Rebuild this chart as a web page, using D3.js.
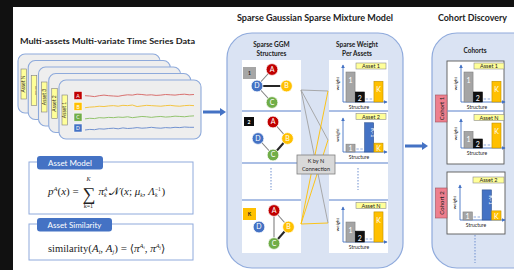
<!DOCTYPE html>
<html>
<head>
<meta charset="utf-8">
<script src="https://cdn.jsdelivr.net/npm/d3@7.9.0/dist/d3.min.js"></script>
<style>
  body { margin: 0; background: #111; }
  svg { display: block; }
  text { font-family: Lato, "Open Sans", sans-serif; fill: #222; }
  .serif { font-family: "Liberation Serif", "DejaVu Serif", serif; white-space: pre; }
</style>
</head>
<body>
<svg id="fig" width="514" height="270"></svg>
<script>
// ---- data ----
const varNames = ["A", "B", "C", "D"];
const seriesA = [0.1, 0.0, -0.2, 0.1, 0.3, 0.1, 0.0, -0.1, 0.2, 0.4, 0.3, 0.6, 0.5, 0.3, 0.4, 0.2, 0.3, 0.5, 0.4, 0.3, 0.5, 0.6, 0.4, 0.5];
const seriesB = [-0.3, -0.1, 0.0, 0.2, 0.1, 0.3, 0.4, 0.2, 0.5, 0.4, 0.6, 0.1, 0.3, 0.5, 0.4, 0.3, 0.2, 0.4, 0.5, 0.3, 0.2, 0.4, 0.5, 0.4];
const seriesC = [-0.4, -0.2, -0.3, 0.0, -0.1, 0.1, 0.0, 0.2, 0.1, 0.3, 0.0, 0.2, 0.4, 0.3, 0.1, 0.3, 0.4, 0.2, 0.3, 0.5, 0.4, 0.3, 0.5, 0.6];
const seriesD = [-0.5, -0.3, -0.4, -0.1, -0.2, 0.0, 0.1, -0.1, 0.2, 0.0, 0.1, 0.3, 0.1, 0.2, 0.4, 0.2, 0.1, 0.3, 0.2, 0.4, 0.3, 0.5, 0.4, 0.4];
const assetStack = ["Asset N", "........", "Asset 3", "Asset 2", "Asset 1"];

const structs12K = ["1", "2", "…", "K"];
const structs1K = ["1", "…", "K-1", "K"];
const asset1Weights = [0.81, 0.27, null, 0.56];
const asset2Weights = [0.23, null, 0.86, 0.26];
const assetNWeights = [0.57, 0.31, null, 0.86];

const graph1Edges = [["D", "A", 0], ["D", "B", 1], ["D", "C", 0]];
const graph2Edges = [["A", "B", 0], ["B", "C", 1], ["C", "D", 0]];
const graphKEdges = [["A", "C", 0], ["A", "B", 0], ["B", "C", 1]];

const grayLinks = ["Asset 1", "Asset 2", "Asset N"];   // from structure 1
const yellowLinks = ["Asset 1", "Asset 2", "Asset N"]; // from structure K

// ---- drawing ----
const svg = d3.select("#fig");
const blue = "#4472c4";
const nodeColor = { A: "#c00000", B: "#ffc000", C: "#70ad47", D: "#4472c4" };
const barStyle = {
  "1": ["#a5a5a5", "#7f7f7f", "#fff"],
  "2": ["#111", "#000", "#fff"],
  "K-1": ["#4472c4", "#2f528f", "#fff"],
  "K": ["#ffc000", "#bf9000", "#fff"]
};

const defs = svg.append("defs");
defs.append("marker").attr("id", "tip").attr("viewBox", "0 0 6 6")
  .attr("refX", 5).attr("refY", 3).attr("markerWidth", 4).attr("markerHeight", 4)
  .attr("orient", "auto")
  .append("path").attr("d", "M0,0 L6,3 L0,6 Z").attr("fill", blue);

svg.append("rect").attr("width", 514).attr("height", 270).attr("fill", "#111");
svg.append("rect").attr("x", 13).attr("y", 7).attr("width", 501).attr("height", 263).attr("fill", "#fff");

function title(txt, x, y, size, len, anchor) {
  const t = svg.append("text").attr("x", x).attr("y", y).attr("font-size", size)
    .attr("font-weight", "bold").attr("text-anchor", anchor || "start").text(txt);
  if (len) t.attr("textLength", len).attr("lengthAdjust", "spacingAndGlyphs");
  return t;
}
title("Multi-assets Multi-variate Time Series Data", 20, 44, 8, 175);
title("Sparse Gaussian Sparse Mixture Model", 237, 21, 8.5, 156);
title("Cohort Discovery", 438, 21, 8.5, 69);

function blueArrow(x0, x1, y) {
  svg.append("path").attr("fill", blue)
    .attr("d", `M${x0},${y - 1.6} L${x1 - 6},${y - 1.6} L${x1 - 6},${y - 4} L${x1},${y} L${x1 - 6},${y + 4} L${x1 - 6},${y + 1.6} L${x0},${y + 1.6} Z`);
}

// --- stacked asset panels ---
assetStack.forEach((name, i) => {
  const px = 18 + i * 10.25, py = 54 + i * 6.5;
  svg.append("rect").attr("x", px).attr("y", py).attr("width", 142).attr("height", 59)
    .attr("rx", 7).attr("fill", "#eeeeee").attr("stroke", "#8eaadb").attr("stroke-width", 1.1);
  svg.append("rect").attr("x", px + 3).attr("y", py + 15).attr("width", 5.5).attr("height", 30)
    .attr("fill", "#ffff99").attr("stroke", "#7f7f7f").attr("stroke-width", 0.6);
  svg.append("text").attr("transform", `translate(${px + 7.4},${py + 30}) rotate(-90)`)
    .attr("text-anchor", "middle").attr("font-size", 5).text(name);
});

const tsData = [seriesA, seriesB, seriesC, seriesD];
const tsColors = ["#d9716f", "#f4c542", "#93c46f", "#7393d0"];
const xTs = d3.scaleLinear().domain([0, seriesA.length - 1]).range([85, 194]);
const yRow = d3.scalePoint().domain(varNames).range([96, 128.5]);
const yDev = d3.scaleLinear().domain([-1, 1]).range([3, -3]);
varNames.forEach((v, i) => {
  svg.append("rect").attr("x", 74).attr("y", yRow(v) - 4.5).attr("width", 8).attr("height", 8)
    .attr("fill", nodeColor[v]).attr("stroke", "#fff").attr("stroke-width", 0.5);
  svg.append("text").attr("x", 78).attr("y", yRow(v) + 1.8).attr("text-anchor", "middle")
    .attr("font-size", 5).style("fill", "#fff").text(v);
  svg.append("path").datum(tsData[i])
    .attr("d", d3.line().x((d, j) => xTs(j)).y(d => yRow(v) + yDev(d)).curve(d3.curveLinear))
    .attr("fill", "none").attr("stroke", tsColors[i]).attr("stroke-width", 1);
});

blueArrow(203, 226, 112);

// --- formula boxes ---
function formulaBox(y0, h, tabW, label) {
  svg.append("rect").attr("x", 29).attr("y", y0).attr("width", 164).attr("height", h)
    .attr("fill", "#fff").attr("stroke", "#8faadc").attr("stroke-width", 1);
  svg.append("rect").attr("x", 37).attr("y", y0 - 6).attr("width", tabW).attr("height", 13.5)
    .attr("rx", 3).attr("fill", blue);
  svg.append("text").attr("x", 37 + tabW / 2).attr("y", y0 + 3.8).attr("text-anchor", "middle")
    .attr("font-size", 8).style("fill", "#fff").text(label);
}
formulaBox(162, 52, 66, "Asset Model");
formulaBox(224, 36, 75, "Asset Similarity");

function mathRow(x0, y0, segs) {
  let x = x0;
  segs.forEach(s => {
    const t = svg.append("text").attr("class", "serif").attr("x", x).attr("y", y0 + (s.dy || 0))
      .attr("font-size", s.fs || 11).attr("font-style", s.it ? "italic" : "normal").text(s.t);
    const w = t.node().getComputedTextLength();
    if (!s.hold) x += w + (s.gap || 0);
  });
  return x;
}
let mx = mathRow(48, 195, [
  { t: "p", it: true }, { t: "A", it: true, fs: 6.5, dy: -4.5 }, { t: "(" }, { t: "x", it: true },
  { t: ")" }, { t: " = ", gap: 1 }
]);
svg.append("text").attr("class", "serif").attr("x", mx).attr("y", 200).attr("font-size", 18).text("∑");
svg.append("text").attr("class", "serif").attr("x", mx + 6).attr("y", 180.5).attr("font-size", 6)
  .attr("font-style", "italic").attr("text-anchor", "middle").text("K");
svg.append("text").attr("class", "serif").attr("x", mx + 6).attr("y", 207.5).attr("font-size", 6)
  .attr("text-anchor", "middle").text("k=1");
mathRow(mx + 16, 195, [
  { t: "π", it: true }, { t: "A", it: true, fs: 5.5, dy: -4.5, hold: true }, { t: "k", it: true, fs: 5.5, dy: 2, gap: 3 },
  { t: "𝒩" }, { t: "(" }, { t: "x", it: true }, { t: "; " }, { t: "μ", it: true },
  { t: "k", it: true, fs: 5.5, dy: 2 }, { t: ", " }, { t: "Λ", it: true },
  { t: "−1", fs: 5.5, dy: -4.5, hold: true }, { t: "k", it: true, fs: 5.5, dy: 2, gap: 4 }, { t: ")" }
]);
mathRow(48, 252, [
  { t: "similarity", fs: 10.5 }, { t: "(" }, { t: "A", it: true }, { t: "i", it: true, fs: 6, dy: 2 },
  { t: ", " }, { t: "A", it: true }, { t: "j", it: true, fs: 6, dy: 2 }, { t: ")" }, { t: " = " },
  { t: "⟨" }, { t: "π", it: true }, { t: "A", it: true, fs: 6.5, dy: -4.5 }, { t: "i", it: true, fs: 4.5, dy: -3 },
  { t: ", " }, { t: "π", it: true }, { t: "A", it: true, fs: 6.5, dy: -4.5 }, { t: "j", it: true, fs: 4.5, dy: -3 }, { t: "⟩" }
]);

// --- middle panel ---
svg.append("rect").attr("x", 227).attr("y", 33).attr("width", 176).attr("height", 235).attr("rx", 25)
  .attr("fill", "#dae3f3").attr("stroke", "#8faadc").attr("stroke-width", 1.2);
[[271.5, "Sparse GGM", "Structures"], [357, "Sparse Weight", "Per Assets"]].forEach(([cx, a, b]) => {
  title(a, cx, 46.5, 6.5, null, "middle");
  title(b, cx, 55.5, 6.5, null, "middle");
});
[242, 329].forEach(x => {
  svg.append("rect").attr("x", x).attr("y", 60).attr("width", 59).attr("height", 193).attr("fill", "#fff");
  [111, 163, 200].forEach(y => svg.append("line").attr("x1", x).attr("x2", x + 59).attr("y1", y).attr("y2", y)
    .attr("stroke", "#8faadc").attr("stroke-width", 1.5));
});
[[271, 168, 190], [358, 168, 190]].forEach(([x, a, b]) => svg.append("line").attr("x1", x).attr("x2", x)
  .attr("y1", a).attr("y2", b).attr("stroke", "#6f8fcf").attr("stroke-dasharray", "1.5,1.5"));

const nodeOffset = { A: [0, -16.5], B: [14.5, 0], C: [0, 16.5], D: [-15, 0] };
function graph(cx, cy, edges, tag) {
  const g = svg.append("g");
  g.append("rect").attr("x", tag.x).attr("y", tag.y).attr("width", tag.w).attr("height", tag.w - 1)
    .attr("fill", tag.fill);
  g.append("text").attr("x", tag.x + tag.w / 2).attr("y", tag.y + tag.w / 2 + 1.5).attr("text-anchor", "middle")
    .attr("font-size", 5).attr("font-weight", "bold").style("fill", tag.ink).text(tag.t);
  const pos = k => [cx + nodeOffset[k][0], cy + nodeOffset[k][1]];
  g.selectAll(".edge").data(edges).join("line")
    .attr("x1", d => pos(d[0])[0]).attr("y1", d => pos(d[0])[1])
    .attr("x2", d => pos(d[1])[0]).attr("y2", d => pos(d[1])[1])
    .attr("stroke", d => d[2] ? "#262626" : "#808080").attr("stroke-width", d => d[2] ? 2 : 1.1);
  varNames.forEach(k => {
    const [x, y] = pos(k);
    g.append("circle").attr("cx", x).attr("cy", y).attr("r", 5.9).attr("fill", nodeColor[k])
      .attr("stroke", "#fff").attr("stroke-width", 0.8);
    g.append("text").attr("x", x).attr("y", y + 2.4).attr("text-anchor", "middle").attr("font-size", 7)
      .style("fill", "#fff").text(k);
  });
}
graph(272, 86, graph1Edges, { x: 243, y: 67, w: 13, fill: "#a6a6a6", ink: "#222", t: "1" });
graph(273, 138.5, graph2Edges, { x: 244, y: 117, w: 10, fill: "#0d0d0d", ink: "#fff", t: "2" });
graph(274, 227, graphKEdges, { x: 243, y: 208, w: 13, fill: "#ffc000", ink: "#222", t: "K" });

// K by N connections
const linkY = { "Asset 1": 91, "Asset 2": 140, "Asset N": 223 };
grayLinks.forEach(a => svg.append("line").attr("x1", 301).attr("y1", 90).attr("x2", 328).attr("y2", linkY[a])
  .attr("stroke", "#a0a0a0").attr("stroke-width", 0.9));
yellowLinks.forEach(a => svg.append("line").attr("x1", 301).attr("y1", 224).attr("x2", 328).attr("y2", linkY[a])
  .attr("stroke", "#ffc000").attr("stroke-width", 0.9));
svg.append("rect").attr("x", 297).attr("y", 155).attr("width", 38).attr("height", 19)
  .attr("fill", "#d9d9d9").attr("stroke", "#7f7f7f").attr("stroke-width", 0.8);
svg.append("text").attr("x", 316).attr("y", 163).attr("text-anchor", "middle").attr("font-size", 5.5).text("K by N");
svg.append("text").attr("x", 316).attr("y", 170.5).attr("text-anchor", "middle").attr("font-size", 5.5).text("Connection");

function miniChart(c) {
  const g = svg.append("g");
  const x = d3.scaleBand().domain(c.cats).range([c.ax + 3, c.right - 4]).paddingInner(0.03);
  const y = d3.scaleLinear().domain([0, 1]).range([c.bot, c.top]);
  g.append("line").attr("x1", c.ax).attr("y1", c.bot).attr("x2", c.ax).attr("y2", c.top)
    .attr("stroke", blue).attr("stroke-width", 0.9).attr("marker-end", "url(#tip)");
  g.append("line").attr("x1", c.ax).attr("y1", c.bot).attr("x2", c.right).attr("y2", c.bot)
    .attr("stroke", blue).attr("stroke-width", 0.9).attr("marker-end", "url(#tip)");
  c.cats.forEach((k, i) => {
    const v = c.vals[i];
    if (v == null) {
      g.append("line").attr("x1", x(k) + 1).attr("x2", x(k) + x.bandwidth() - 1)
        .attr("y1", c.bot - 3).attr("y2", c.bot - 3).attr("stroke", "#8faadc").attr("stroke-dasharray", "2.5,1.5");
      return;
    }
    const [f, s, ink] = barStyle[k];
    g.append("rect").attr("x", x(k)).attr("y", y(v)).attr("width", x.bandwidth()).attr("height", c.bot - y(v))
      .attr("fill", f).attr("stroke", s).attr("stroke-width", 0.6);
    const lbl = g.append("text").attr("font-size", 7).style("fill", ink).attr("text-anchor", "middle");
    if (k === "K-1") lbl.attr("transform", `translate(${x(k) + x.bandwidth() / 2 + 2},${y(v) + 10}) rotate(90)`).attr("font-size", 6).text(k);
    else lbl.attr("x", x(k) + x.bandwidth() / 2).attr("y", Math.min(c.bot - 1.5, y(v) + 11)).text(k);
  });
  g.append("rect").attr("x", c.ax + 13).attr("y", c.ly).attr("width", c.right - c.ax - 14).attr("height", 6)
    .attr("fill", "#ffff99").attr("stroke", "#8c8c8c").attr("stroke-width", 0.6);
  g.append("text").attr("x", c.ax + 13 + (c.right - c.ax - 14) / 2).attr("y", c.ly + 5).attr("text-anchor", "middle")
    .attr("font-size", 5.5).text(c.name);
  g.append("text").attr("transform", `translate(${c.ax - 4},${(c.top + c.bot) / 2}) rotate(-90)`)
    .attr("text-anchor", "middle").attr("font-size", 4.5).text("weight");
  g.append("text").attr("x", c.ax + 16).attr("y", c.bot + 7).attr("text-anchor", "middle")
    .attr("font-size", 5).text("Structure");
}
miniChart({ ax: 343, top: 65, bot: 102, right: 387, ly: 63, name: "Asset 1", cats: structs12K, vals: asset1Weights });
miniChart({ ax: 343, top: 118, bot: 152, right: 387, ly: 113.5, name: "Asset 2", cats: structs1K, vals: asset2Weights });
miniChart({ ax: 343, top: 207, bot: 242, right: 387, ly: 202.5, name: "Asset N", cats: structs12K, vals: assetNWeights });

blueArrow(405, 428, 146);

// --- cohort panel ---
svg.append("rect").attr("x", 432).attr("y", 33).attr("width", 110).attr("height", 235).attr("rx", 25)
  .attr("fill", "#dae3f3").attr("stroke", "#8faadc").attr("stroke-width", 1.2);
title("Cohorts", 475, 53, 6.5, null, "middle");
[[447, 61, 57, 103, [111]], [447, 172, 58, 62, []]].forEach(([x, y, w, h, seps]) => {
  svg.append("rect").attr("x", x).attr("y", y).attr("width", w).attr("height", h)
    .attr("fill", "#fff").attr("stroke", "#595959").attr("stroke-width", 0.9);
  seps.forEach(s => svg.append("line").attr("x1", x).attr("x2", x + w).attr("y1", s).attr("y2", s)
    .attr("stroke", "#8faadc").attr("stroke-width", 1.5));
});
[["Cohort 1", 95, 27], ["Cohort 2", 188, 30]].forEach(([t, y, h]) => {
  svg.append("rect").attr("x", 435.5).attr("y", y).attr("width", 11.5).attr("height", h)
    .attr("fill", "#ee7f8e").attr("stroke", "#a0505c").attr("stroke-width", 0.6);
  svg.append("text").attr("transform", `translate(${443.5},${y + h / 2}) rotate(-90)`)
    .attr("text-anchor", "middle").attr("font-size", 6).text(t);
});
miniChart({ ax: 461, top: 65, bot: 102, right: 505, ly: 63, name: "Asset 1", cats: structs12K, vals: asset1Weights });
miniChart({ ax: 461, top: 119, bot: 148, right: 505, ly: 114.5, name: "Asset N", cats: structs12K, vals: assetNWeights });
miniChart({ ax: 460, top: 185, bot: 220, right: 505, ly: 177, name: "Asset 2", cats: structs1K, vals: asset2Weights });
svg.append("line").attr("x1", 475).attr("x2", 475).attr("y1", 235).attr("y2", 263)
  .attr("stroke", "#6f8fcf").attr("stroke-dasharray", "1.5,1.5");
</script>
</body>
</html>
